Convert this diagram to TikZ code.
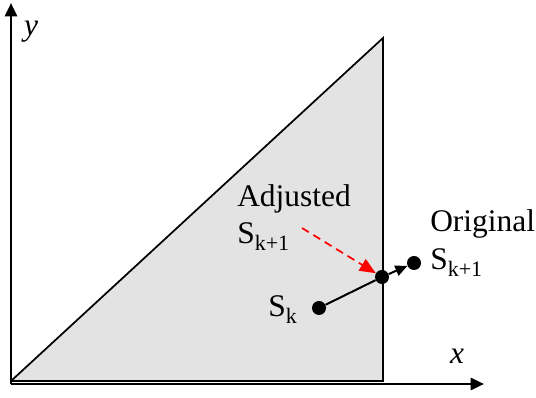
\documentclass[tikz,border=0pt]{standalone}
\usepackage{fontspec}
\setmainfont{Liberation Serif}
\usetikzlibrary{arrows.meta,positioning}
\usepackage{xcolor}
\newcommand{\lowsub}[1]{\raisebox{-0.22em}{\fontsize{16.5}{18}\selectfont #1}}

\begin{document}
\begin{tikzpicture}[x=0.75pt,y=-0.75pt,font=\fontsize{23.6}{28}\selectfont,
  dot/.style={circle,fill=black,inner sep=0pt,minimum size=10.5pt},
  lbl/.style={anchor=base west,inner sep=0pt}]
  \useasboundingbox (0,0) rectangle (536,398);
  % region and axes
  \coordinate (o) at (11,384);
  \coordinate (ytip) at (11,3);
  \coordinate (xtip) at (484,384);
  \fill[gray!22] (11,381) -- (383,38) -- (383,381) -- cycle;
  \draw[line width=1.3pt] (11,381) -- (383,38) -- (383,381) -- (11,381);
  \draw[line width=2pt,-{Triangle[length=10pt,width=9pt]}] (o) -- (ytip);
  \draw[line width=2pt,-{Triangle[length=10pt,width=9pt]}] (o) -- (xtip);
  \node[font=\fontsize{23.6}{28}\selectfont\itshape] (ylab) at (31,32) {y};
  \node[font=\fontsize{23.6}{28}\selectfont\itshape] (xlab) at (457,356) {x};
  % points
  \node[dot] (sk) at (319,308) {};
  \node[dot] (adj) at (382,277) {};
  \node[dot] (orig) at (414,263) {};
  \draw[line width=1.5pt] (sk) -- (adj);
  \draw[line width=1.5pt,-{Triangle[length=9pt,width=8pt]}] (adj) -- (orig);
  \coordinate (rstart) at (302,228);
  \draw[red,line width=1.3pt,dash pattern=on 6pt off 4pt,-{Triangle[length=12pt,width=10pt]}] (rstart) -- (adj);
  % labels
  \node[lbl] (adjtxt) at (237,207) {Adjusted};
  \node[lbl] (adjs) at (237,244) {S\lowsub{k+1}};
  \node[lbl] (origtxt) at (430,232) {Original};
  \node[lbl] (origs) at (430,270) {S\lowsub{k+1}};
  \node[lbl] (sktxt) at (268,317) {S\lowsub{k}};
\end{tikzpicture}
\end{document}
